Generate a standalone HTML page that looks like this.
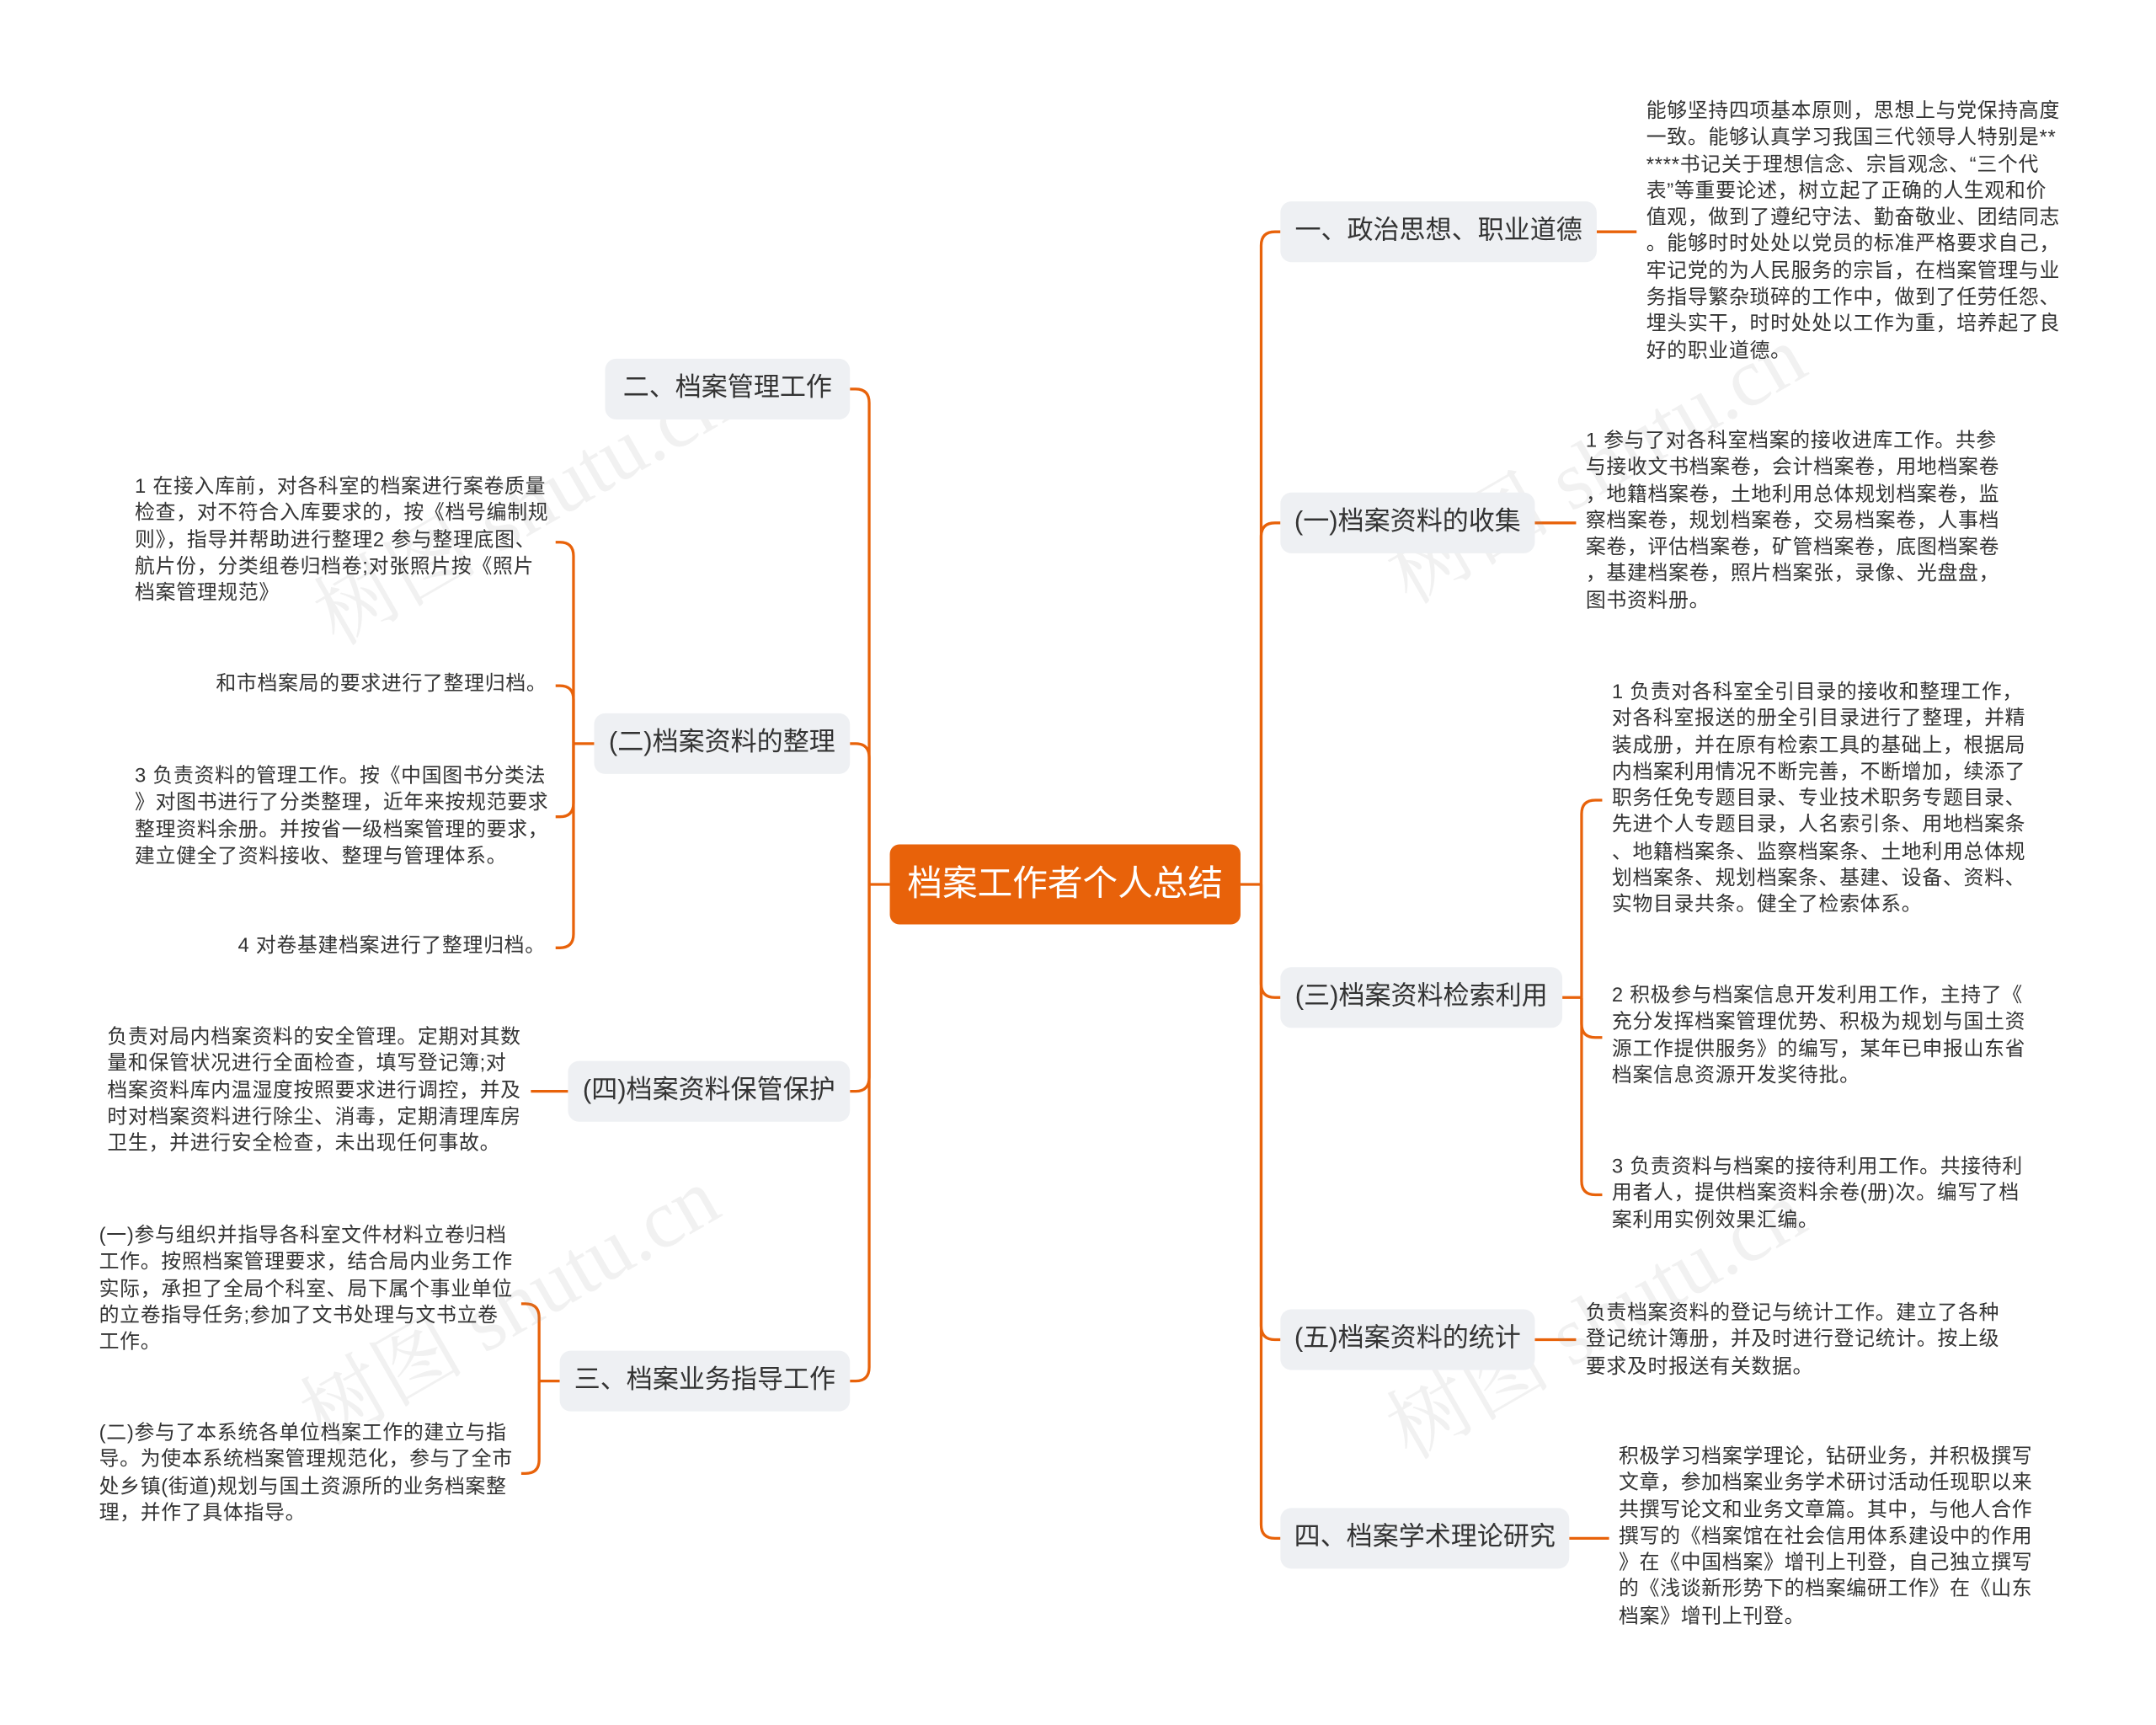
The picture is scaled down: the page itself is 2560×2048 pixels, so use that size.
<!DOCTYPE html>
<html><head><meta charset="utf-8"><style>
html,body{margin:0;padding:0;background:#fff;}
body{width:2560px;height:2047px;overflow:hidden;position:relative;}
#s{position:absolute;left:0;top:0;width:1568px;height:1250px;transform:scale(1.633,1.638);transform-origin:0 0;font-family:"Liberation Sans","Noto Sans CJK SC",sans-serif;color:#333;}
.n{position:absolute;height:44px;line-height:44px;background:#eef0f3;border-radius:8px;font-size:19px;text-align:center;white-space:nowrap;}
.t{position:absolute;font-size:14.6px;line-height:19.3px;white-space:pre;letter-spacing:0.45px;color:#333;}
.c{position:absolute;left:647px;top:612px;width:255px;height:58px;line-height:58px;background:#e8620a;border-radius:7px;color:#fff;font-size:25.5px;text-align:center;}
.w{position:absolute;font-size:60px;color:rgba(150,150,150,0.13);transform:rotate(-30deg);white-space:nowrap;font-family:"Liberation Serif","Noto Serif CJK SC",serif;}
</style></head><body><div id="s">
<svg width="1568" height="1250" style="position:absolute;left:0;top:0" fill="none" stroke="#e8620a" stroke-width="2">
<path d="M902 641H917"/>
<path d="M917 641V178Q917 168 927 168H931"/>
<path d="M917 641V389Q917 379 927 379H931"/>
<path d="M917 641V713Q917 723 927 723H931"/>
<path d="M917 641V961Q917 971 927 971H931"/>
<path d="M917 641V1105Q917 1115 927 1115H931"/>
<path d="M1161 168H1190"/>
<path d="M1116 379H1146"/>
<path d="M1116 971H1146"/>
<path d="M1141 1115H1170"/>
<path d="M1136 723H1150"/>
<path d="M1150 723V590Q1150 580 1160 580H1165"/>
<path d="M1150 723V742Q1150 752 1160 752H1165"/>
<path d="M1150 723V856Q1150 866 1160 866H1165"/>
<path d="M647 641H632"/>
<path d="M632 641V292Q632 282 622 282H618"/>
<path d="M632 641V549Q632 539 622 539H618"/>
<path d="M632 641V781Q632 791 622 791H618"/>
<path d="M632 641V991Q632 1001 622 1001H618"/>
<path d="M432 539H417"/>
<path d="M417 539V403Q417 393 407 393H404"/>
<path d="M417 539V507Q417 497 407 497H404"/>
<path d="M417 539V582Q417 592 407 592H404"/>
<path d="M417 539V677Q417 687 407 687H404"/>
<path d="M413 791H386"/>
<path d="M407 1001H392"/>
<path d="M392 1001V955Q392 945 382 945H379"/>
<path d="M392 1001V1058Q392 1068 382 1068H379"/>
</svg>
<div class="w" style="left:210px;top:320px">树图 shutu.cn</div>
<div class="w" style="left:200px;top:900px">树图 shutu.cn</div>
<div class="w" style="left:990px;top:290px">树图 shutu.cn</div>
<div class="w" style="left:990px;top:910px">树图 shutu.cn</div>
<div class="c">档案工作者个人总结</div>
<div class="n" style="left:931px;top:146px;width:230px">一、政治思想、职业道德</div>
<div class="n" style="left:931px;top:357px;width:185px">(一)档案资料的收集</div>
<div class="n" style="left:931px;top:701px;width:205px">(三)档案资料检索利用</div>
<div class="n" style="left:931px;top:949px;width:185px">(五)档案资料的统计</div>
<div class="n" style="left:931px;top:1093px;width:210px">四、档案学术理论研究</div>
<div class="n" style="left:440px;top:260px;width:178px">二、档案管理工作</div>
<div class="n" style="left:432px;top:517px;width:186px">(二)档案资料的整理</div>
<div class="n" style="left:413px;top:769px;width:205px">(四)档案资料保管保护</div>
<div class="n" style="left:407px;top:979px;width:211px">三、档案业务指导工作</div>
<div class="t" style="left:1197px;top:72px">能够坚持四项基本原则，思想上与党保持高度
一致。能够认真学习我国三代领导人特别是**
****书记关于理想信念、宗旨观念、“三个代
表”等重要论述，树立起了正确的人生观和价
值观，做到了遵纪守法、勤奋敬业、团结同志
。能够时时处处以党员的标准严格要求自己，
牢记党的为人民服务的宗旨，在档案管理与业
务指导繁杂琐碎的工作中，做到了任劳任怨、
埋头实干，时时处处以工作为重，培养起了良
好的职业道德。</div>
<div class="t" style="left:1153px;top:311px">1 参与了对各科室档案的接收进库工作。共参
与接收文书档案卷，会计档案卷，用地档案卷
，地籍档案卷，土地利用总体规划档案卷，监
察档案卷，规划档案卷，交易档案卷，人事档
案卷，评估档案卷，矿管档案卷，底图档案卷
，基建档案卷，照片档案张，录像、光盘盘，
图书资料册。</div>
<div class="t" style="left:1172px;top:493px">1 负责对各科室全引目录的接收和整理工作，
对各科室报送的册全引目录进行了整理，并精
装成册，并在原有检索工具的基础上，根据局
内档案利用情况不断完善，不断增加，续添了
职务任免专题目录、专业技术职务专题目录、
先进个人专题目录，人名索引条、用地档案条
、地籍档案条、监察档案条、土地利用总体规
划档案条、规划档案条、基建、设备、资料、
实物目录共条。健全了检索体系。</div>
<div class="t" style="left:1172px;top:713px">2 积极参与档案信息开发利用工作，主持了《
充分发挥档案管理优势、积极为规划与国土资
源工作提供服务》的编写，某年已申报山东省
档案信息资源开发奖待批。</div>
<div class="t" style="left:1172px;top:837px">3 负责资料与档案的接待利用工作。共接待利
用者人，提供档案资料余卷(册)次。编写了档
案利用实例效果汇编。</div>
<div class="t" style="left:1153px;top:943px">负责档案资料的登记与统计工作。建立了各种
登记统计簿册，并及时进行登记统计。按上级
要求及时报送有关数据。</div>
<div class="t" style="left:1177px;top:1047px">积极学习档案学理论，钻研业务，并积极撰写
文章，参加档案业务学术研讨活动任现职以来
共撰写论文和业务文章篇。其中，与他人合作
撰写的《档案馆在社会信用体系建设中的作用
》在《中国档案》增刊上刊登，自己独立撰写
的《浅谈新形势下的档案编研工作》在《山东
档案》增刊上刊登。</div>
<div class="t" style="left:98px;top:344px">1 在接入库前，对各科室的档案进行案卷质量
检查，对不符合入库要求的，按《档号编制规
则》，指导并帮助进行整理2 参与整理底图、
航片份，分类组卷归档卷;对张照片按《照片
档案管理规范》</div>
<div class="t" style="left:157px;top:487px">和市档案局的要求进行了整理归档。</div>
<div class="t" style="left:98px;top:554px">3 负责资料的管理工作。按《中国图书分类法
》对图书进行了分类整理，近年来按规范要求
整理资料余册。并按省一级档案管理的要求，
建立健全了资料接收、整理与管理体系。</div>
<div class="t" style="left:173px;top:677px">4 对卷基建档案进行了整理归档。</div>
<div class="t" style="left:78px;top:743px">负责对局内档案资料的安全管理。定期对其数
量和保管状况进行全面检查，填写登记簿;对
档案资料库内温湿度按照要求进行调控，并及
时对档案资料进行除尘、消毒，定期清理库房
卫生，并进行安全检查，未出现任何事故。</div>
<div class="t" style="left:72px;top:887px">(一)参与组织并指导各科室文件材料立卷归档
工作。按照档案管理要求，结合局内业务工作
实际，承担了全局个科室、局下属个事业单位
的立卷指导任务;参加了文书处理与文书立卷
工作。</div>
<div class="t" style="left:72px;top:1030px">(二)参与了本系统各单位档案工作的建立与指
导。为使本系统档案管理规范化，参与了全市
处乡镇(街道)规划与国土资源所的业务档案整
理，并作了具体指导。</div>
</div></body></html>
